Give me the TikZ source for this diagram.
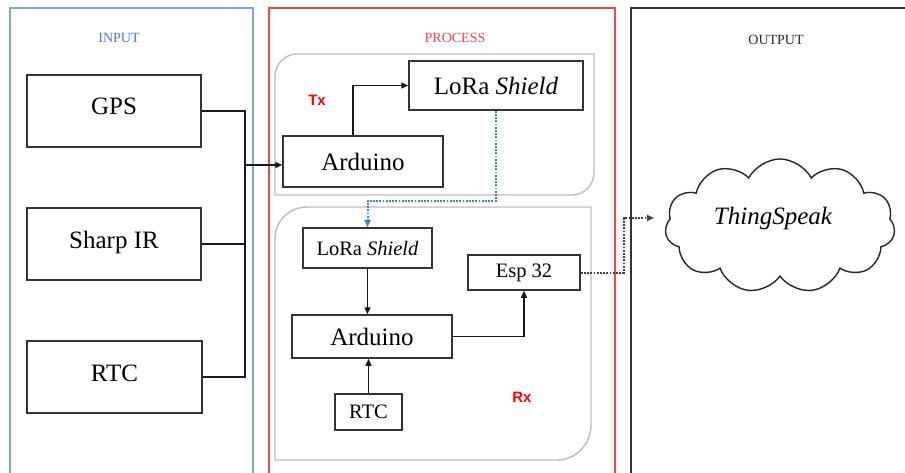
\documentclass[tikz,border=0pt]{standalone}
\usepackage{fontspec}
\setmainfont{Liberation Serif}
\newfontfamily\sansb{Liberation Sans}
\usetikzlibrary{arrows.meta,shapes.symbols}
\definecolor{inblue}{HTML}{7FA3E3}
\definecolor{intitle}{HTML}{4A78CC}
\definecolor{procred}{HTML}{F04848}
\definecolor{dotblue}{HTML}{3C84D4}
\definecolor{boxgray}{HTML}{BDBDBD}
\tikzset{
  blk/.style={draw=black!80, line width=1.5pt, inner sep=0pt, font=\fontsize{25}{28}\selectfont},
  inblk/.style={blk, minimum width=174, minimum height=72, text height=18pt, text depth=10pt},
  sblk/.style={draw=black!80, line width=1.5pt, inner sep=0pt, font=\fontsize{20.5}{24}\selectfont},
  ttl/.style={font=\fontsize{14}{16}\selectfont},
  txrx/.style={text=red, font=\sansb\bfseries\fontsize{15}{17}\selectfont},
  wire/.style={draw=black!90, line width=1.4pt},
  arr/.style={wire, -{Triangle[length=7pt,width=6pt]}},
  bdot/.style={draw=dotblue, line width=2pt, dash pattern=on 1.8pt off 1.4pt, -{Triangle[length=7pt,width=6pt]}},
  kdot/.style={draw=black!75, line width=2pt, dash pattern=on 1.8pt off 1.4pt, -{Triangle[length=7pt,width=6pt]}},
}
\begin{document}
\begin{tikzpicture}[x=1pt,y=-1pt]
\useasboundingbox (0,0) rectangle (905,473);
\clip (0,0) rectangle (905,473);
\fill[white] (0,0) rectangle (905,473);
% panels
\draw[inblue, line width=1.4pt] (10,490) -- (10,8) -- (253,8) -- (253,490);
\draw[procred, line width=1.4pt] (269,490) -- (269,8) -- (615,8) -- (615,490);
\draw[black!80, line width=1.4pt] (631,490) -- (631,8) -- (920,8);
\node[ttl, text=intitle] (tin) at (119,38) {INPUT};
\node[ttl, text=procred] (tproc) at (455,38) {PROCESS};
\node[ttl, text=black!85] (tout) at (776,40) {OUTPUT};
% Tx / Rx frames
\draw[boxgray, line width=1.4pt] (275,195) -- (275,76) .. controls (275,64) and (285,54) .. (297,54) -- (594,54) -- (594,173) .. controls (594,185) and (584,195) .. (572,195) -- cycle;
\draw[boxgray, line width=1.4pt] (275,460) -- (275,239) .. controls (275,221) and (289,207) .. (307,207) -- (591,207) -- (591,425) .. controls (591,444) and (576,460) .. (557,460) -- cycle;
% input blocks
\node[inblk] (gps) at (114,111) {GPS};
\node[inblk] (sharp) at (114,244) {Sharp IR};
\node[inblk, minimum width=175] (rtcin) at (114.5,377) {RTC};
% Tx
\node[txrx] (tx) at (317,100) {Tx};
\node[blk, minimum width=174, minimum height=49] (loratx) at (496,85.5) {LoRa \textit{Shield}};
\node[blk, minimum width=160, minimum height=51] (ardtx) at (363,161.5) {Arduino};
% Rx
\node[sblk, minimum width=129, minimum height=40] (lorarx) at (367.5,248) {LoRa \textit{Shield}};
\node[sblk, minimum width=112, minimum height=35] (esp) at (524,272.5) {Esp 32};
\node[blk, minimum width=160, minimum height=43] (ardrx) at (372,336.5) {Arduino};
\node[sblk, minimum width=67, minimum height=36] (rtcrx) at (368.5,412) {RTC};
\node[txrx] (rx) at (522,397) {Rx};
% cloud
\node[cloud, draw=black!85, line width=1.4pt, cloud puffs=11, cloud puff arc=125, aspect=1.75, minimum width=230, minimum height=134, inner sep=0pt] (cloud) at (780,226) {};
\node[font=\fontsize{25}{28}\selectfont\itshape] (ts) at (773,218) {ThingSpeak};
% input connectors
\coordinate (bus) at (245,0);
\draw[wire] (gps.east) -| (bus |- rtcin.east) -- (rtcin.east);
\draw[wire] (sharp.east) -- (bus |- sharp.east);
\draw[arr] (bus |- 0,165) -- (ardtx.west |- 0,165);
% Tx connector
\draw[arr] ([xshift=-10pt]ardtx.north) |- (loratx.west);
% Tx -> Rx radio link
\draw[bdot] (loratx.south) -- ++(0,90) -| (lorarx.north);
% Rx connectors
\draw[arr] (lorarx.south) -- (lorarx.south |- ardrx.north);
\draw[arr] (rtcrx.north) -- (rtcrx.north |- ardrx.south);
\draw[arr] (ardrx.east) -| (esp.south);
% Esp -> cloud
\coordinate (cin) at (654,218);
\draw[kdot] (esp.east) -- ++(43,0) |- (cin);
\end{tikzpicture}
\end{document}
